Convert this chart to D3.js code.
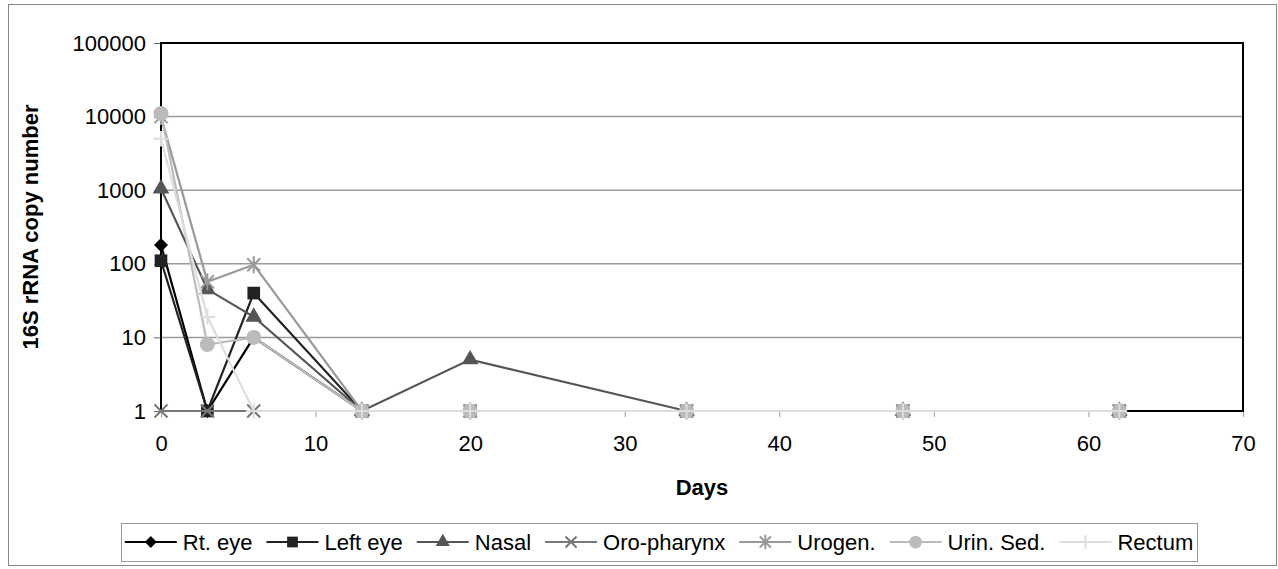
<!DOCTYPE html>
<html>
<head>
<meta charset="utf-8">
<script src="https://cdn.jsdelivr.net/npm/d3@7"></script>
<style>
  body { margin: 0; background: #fff; }
  text { font-family: "Liberation Sans", Arial, sans-serif; }
</style>
</head>
<body>
<svg id="chart" width="1278" height="569"></svg>
<script>
// data
const days = [0, 3, 6, 13, 20, 34, 48, 62]
const seriesNames = ['Rt. eye', 'Left eye', 'Nasal', 'Oro-pharynx', 'Urogen.', 'Urin. Sed.', 'Rectum']
const rtEye = [180, 1, 10, 1, 1, 1, 1, 1]
const leftEye = [110, 1, 40, 1, 1, 1, 1, 1]
const nasal = [1050, 45, 19, 1, 5, 1, 1, 1]
const oroPharynx = [1, 1, 1, 1, 1, 1, 1, 1]
const urogen = [10000, 57, 97, 1, 1, 1, 1, 1]
const urinSed = [11000, 8, 10, 1, 1, 1, 1, 1]
const rectum = [5000, 19, 1, 1, 1, 1, 1, 1]
const xTicks = [0, 10, 20, 30, 40, 50, 60, 70]
const yTicks = [1, 10, 100, 1000, 10000, 100000]

const allValues = [rtEye, leftEye, nasal, oroPharynx, urogen, urinSed, rectum]
const colors = ['#000000', '#222222', '#555555', '#777777', '#999999', '#bbbbbb', '#dddddd']
const markers = ['diamond', 'square', 'triangle', 'x', 'star', 'circle', 'plus']

const svg = d3.select('#chart')
const plotL = 161, plotR = 1243, plotT = 43, plotB = 411
const fontSize = 22

// outer frame
svg.append('rect')
  .attr('x', 8.5).attr('y', 4.5).attr('width', 1268).attr('height', 561)
  .attr('fill', 'none').attr('stroke', '#888').attr('stroke-width', 1)

const xScale = d3.scaleLinear().domain([0, 70]).range([plotL, plotR])
const yScale = d3.scaleLog().domain([1, 100000]).range([plotB, plotT])

// gridlines
svg.append('g')
  .selectAll('line')
  .data(yTicks.slice(1, -1))
  .join('line')
    .attr('x1', plotL).attr('x2', plotR)
    .attr('y1', d => yScale(d)).attr('y2', d => yScale(d))
    .attr('stroke', '#9a9a9a').attr('stroke-width', 1.5)

// y axis
const yAxis = d3.axisLeft(yScale).tickValues(yTicks).tickFormat(d3.format('d')).tickSize(7).tickPadding(8)
const gy = svg.append('g').attr('transform', `translate(${plotL},0)`).call(yAxis)
gy.select('.domain').remove()
gy.selectAll('.tick line').attr('stroke', '#666')
gy.selectAll('.tick text').style('font-size', fontSize + 'px').attr('fill', '#000')

// x axis
const xAxis = d3.axisBottom(xScale).tickValues(xTicks).tickSize(6).tickPadding(18)
const gx = svg.append('g').attr('transform', `translate(0,${plotB})`).call(xAxis)
gx.select('.domain').remove()
gx.selectAll('.tick line').attr('stroke', '#999')
gx.selectAll('.tick text').style('font-size', fontSize + 'px').attr('fill', '#000')

// plot area border
svg.append('rect')
  .attr('x', plotL).attr('y', plotT).attr('width', plotR - plotL).attr('height', plotB - plotT)
  .attr('fill', 'none').attr('stroke', '#000').attr('stroke-width', 2)

// axis titles
svg.append('text')
  .attr('transform', `translate(38,${(plotT + plotB) / 2}) rotate(-90)`)
  .attr('text-anchor', 'middle')
  .style('font-size', fontSize + 'px').style('font-weight', 'bold')
  .text('16S rRNA copy number')

svg.append('text')
  .attr('x', (plotL + plotR) / 2).attr('y', 495)
  .attr('text-anchor', 'middle')
  .style('font-size', fontSize + 'px').style('font-weight', 'bold')
  .text('Days')

// marker drawing
const drawMarker = (g, type, color, s) => {
  if (type === 'diamond') {
    const r = 7 * s
    g.append('path').attr('d', `M0,${-r}L${r},0L0,${r}L${-r},0Z`).attr('fill', color)
  } else if (type === 'square') {
    g.append('path').attr('d', d3.symbol(d3.symbolSquare, 160 * s * s)()).attr('fill', color)
  } else if (type === 'triangle') {
    g.append('path').attr('d', d3.symbol(d3.symbolTriangle, 120 * s * s)()).attr('fill', color)
  } else if (type === 'circle') {
    g.append('circle').attr('r', 7.5 * s).attr('fill', color)
  } else {
    const r = 6.5 * s
    let d = ''
    if (type === 'x' || type === 'star') d += `M${-r},${-r}L${r},${r}M${-r},${r}L${r},${-r}`
    if (type === 'star') d += `M0,${-r * 1.3}L0,${r * 1.3}`
    if (type === 'plus') d += `M${-r * 1.2},0L${r * 1.2},0M0,${-r * 1.2}L0,${r * 1.2}`
    g.append('path').attr('d', d).attr('fill', 'none').attr('stroke', color).attr('stroke-width', 2)
  }
}

const line = d3.line().x((d, i) => xScale(days[i])).y(d => yScale(d))

allValues.forEach((vals, k) => {
  const g = svg.append('g')
  g.append('path')
    .attr('d', line(vals))
    .attr('fill', 'none').attr('stroke', colors[k]).attr('stroke-width', 2.2)
  vals.forEach((v, i) => {
    const m = g.append('g').attr('transform', `translate(${xScale(days[i])},${yScale(v)})`)
    drawMarker(m, markers[k], colors[k], 1)
  })
})

// legend
const legend = svg.append('g')
const lineLen = 52, gapText = 6, gapItem = 14
let cx = 0
seriesNames.forEach((name, k) => {
  const it = legend.append('g').attr('transform', `translate(${cx},0)`)
  it.append('line').attr('x1', 0).attr('x2', lineLen).attr('y1', 0).attr('y2', 0)
    .attr('stroke', colors[k]).attr('stroke-width', 2.2)
  const m = it.append('g').attr('transform', `translate(${lineLen / 2},0)`)
  drawMarker(m, markers[k], colors[k], 0.85)
  const t = it.append('text').attr('x', lineLen + gapText).attr('y', 0).attr('dy', '0.35em')
    .style('font-size', fontSize + 'px').text(name)
  cx += lineLen + gapText + t.node().getComputedTextLength() + gapItem
})
const totalW = cx - gapItem
const boxL = 121, boxR = 1197
const startX = (boxL + boxR) / 2 - totalW / 2
legend.attr('transform', `translate(${startX},542)`)
svg.insert('rect', 'g')
  .attr('x', boxL + 0.5).attr('y', 523.5).attr('width', boxR - boxL).attr('height', 38)
  .attr('fill', '#fff').attr('stroke', '#999').attr('stroke-width', 1)
</script>
</body>
</html>
